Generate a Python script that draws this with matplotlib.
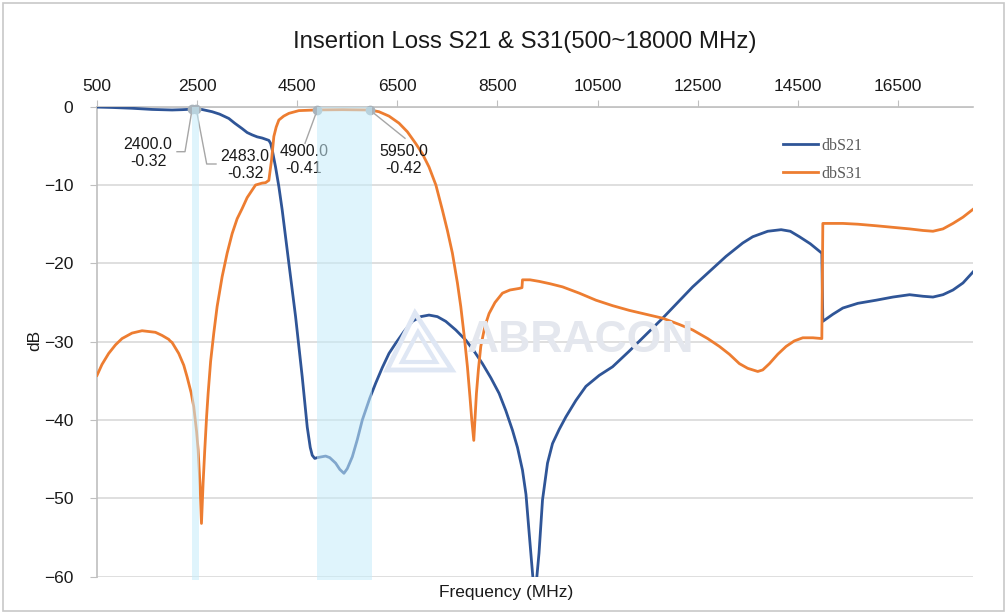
import matplotlib
matplotlib.use("Agg")
import matplotlib.pyplot as plt
from matplotlib.patches import Rectangle, Polygon

# ---------------- data ----------------
s21_freq = [500, 800, 1200, 1600, 2000, 2200, 2400, 2483, 2600, 2800, 2950, 3133, 3250, 3400,
            3500, 3600, 3700, 3800, 3933, 3970, 4000, 4033, 4067, 4133, 4200, 4333, 4467,
            4600, 4700, 4760, 4800, 4850, 4900, 5067, 5150, 5267, 5350, 5433, 5500, 5600,
            5700, 5800, 5950, 6067, 6200, 6333, 6467, 6633, 6800, 6967, 7133, 7300, 7467,
            7667, 7867, 8033, 8200, 8367, 8533, 8667, 8800, 8900, 9000, 9070, 9133, 9180,
            9213, 9280, 9330, 9400, 9500, 9600, 9733, 9867, 10067, 10267, 10533, 10800,
            11133, 11467, 11800, 12400, 13067, 13400, 13600, 13900, 14167, 14350, 14533,
            14750, 14980, 15000, 15200, 15400, 15700, 16067, 16400, 16733, 17000, 17200,
            17400, 17600, 17800, 18000]
s21_db = [-0.05, -0.1, -0.2, -0.35, -0.42, -0.38, -0.32, -0.32, -0.36, -0.64, -0.95, -1.5, -2.1, -2.8,
          -3.3, -3.6, -3.85, -4.0, -4.3, -4.7, -5.5, -6.6, -7.7, -10.2, -13.2, -20.0, -26.8,
          -34.5, -40.9, -43.5, -44.5, -44.9, -44.8, -44.6, -44.8, -45.5, -46.3, -46.8, -46.2, -44.7,
          -42.5, -40.0, -37.2, -35.3, -33.3, -31.5, -30.2, -28.7, -27.4, -26.8, -26.6, -26.8, -27.4,
          -28.5, -29.8, -31.2, -32.8, -34.6, -36.6, -38.8, -41.3, -43.5, -46.4, -49.5, -54.4, -58.0,
          -60.5, -60.5, -57.0, -50.2, -45.5, -43.0, -41.2, -39.6, -37.5, -35.7, -34.3, -33.2,
          -31.2, -29.1, -27.0, -23.0, -19.1, -17.4, -16.6, -15.9, -15.7, -15.9, -16.6,
          -17.5, -18.7, -27.4, -26.5, -25.7, -25.1, -24.7, -24.3, -24.0, -24.2, -24.3,
          -24.0, -23.4, -22.5, -21.1]

s31_freq = [500, 600, 733, 870, 1000, 1200, 1400, 1667, 1800, 1933, 1960, 2000, 2133, 2233,
            2300, 2380, 2433, 2490, 2520, 2560, 2587, 2620, 2653, 2690, 2720, 2770, 2833,
            2900, 3000, 3100, 3200, 3300, 3400, 3500, 3667, 3800, 3867, 3933, 3987, 4033,
            4080, 4133, 4230, 4333, 4533, 4900, 5400, 5950, 6133, 6333, 6533, 6700, 6867,
            7000, 7133, 7270, 7400, 7500, 7600, 7700, 7767, 7840, 7900, 7950, 7987, 8027,
            8050, 8080, 8120, 8167, 8250, 8333, 8450, 8600, 8750, 8933, 8990, 9000, 9150,
            9333, 9550, 9800, 10133, 10467, 10800, 11133, 11467, 11800, 12133, 12400, 12700,
            12933, 13133, 13333, 13500, 13700, 13800, 13933, 14100, 14267, 14430, 14600,
            14800, 14980, 15000, 15400, 15700, 16067, 16400, 16733, 17000, 17200, 17400,
            17600, 17800, 18000]
s31_db = [-34.3, -32.9, -31.5, -30.4, -29.6, -28.9, -28.6, -28.8, -29.2, -29.7, -29.9, -30.1, -31.5, -33.0,
          -34.5, -36.5, -38.3, -41.5, -43.8, -48.5, -53.2, -48.0, -43.8, -39.5, -36.6, -32.5, -28.9,
          -25.5, -21.7, -18.7, -16.2, -14.3, -13.0, -11.6, -10.0, -9.75, -9.7, -9.4, -6.8, -3.8,
          -2.6, -1.7, -1.2, -0.85, -0.5, -0.41, -0.38, -0.42, -0.64, -1.2, -2.1, -3.2, -4.7,
          -6.0, -7.7, -10.0, -13.2, -15.8, -18.7, -22.5, -25.5, -29.5, -33.2, -37.0, -40.0, -42.6,
          -40.0, -36.6, -33.5, -30.6, -28.0, -26.4, -25.0, -23.8, -23.4, -23.2, -23.1, -22.1, -22.1,
          -22.3, -22.6, -23.0, -23.8, -24.7, -25.4, -26.0, -26.5, -27.0, -27.8, -28.5, -29.6,
          -30.6, -31.6, -32.8, -33.4, -33.8, -33.6, -32.8, -31.6, -30.6, -29.9, -29.5,
          -29.5, -29.6, -14.9, -14.9, -15.0, -15.2, -15.4, -15.6, -15.8, -15.9, -15.6,
          -14.9, -14.1, -13.1]

marker_freq = [2400.0, 2483.0, 4900.0, 5950.0]
marker_db = [-0.32, -0.32, -0.41, -0.42]
band_ranges = [(2400, 2483), (4900, 5950)]

x_ticks = [500, 2500, 4500, 6500, 8500, 10500, 12500, 14500, 16500]
y_ticks = [0, -10, -20, -30, -40, -50, -60]

title = "Insertion Loss S21 & S31(500~18000 MHz)"
series_names = ["dbS21", "dbS31"]

# ---------------- styling ----------------
BLUE = "#2f5597"
ORANGE = "#ed7d31"
GRID = "#d9d9d9"
plt.rcParams["font.family"] = ["Liberation Sans", "DejaVu Sans"]

W, H = 1008, 614
fig = plt.figure(figsize=(W / 100, H / 100), dpi=100)
fig.patch.set_facecolor("white")


def fx(px):
    return px / W


def fy(py):
    return 1 - py / H


ax = fig.add_axes([fx(97), fy(576.7), fx(973) - fx(97), fy(106.7) - fy(576.7)])
ax.set_xlim(500, 18000)
ax.set_ylim(-60, 0)

# frame around the figure
fig.add_artist(Rectangle((fx(3), fy(611)), fx(1004) - fx(3), fy(3) - fy(611),
                         transform=fig.transFigure, fill=False, edgecolor="#c8c8c8", lw=1.2))

# gridlines / ticks
ax.set_yticks(y_ticks)
ax.yaxis.grid(True, color=GRID, lw=1.2)
ax.set_axisbelow(True)
ax.xaxis.tick_top()
ax.set_xticks(x_ticks)
ax.set_xticklabels([str(v) for v in x_ticks])
ax.tick_params(axis="x", direction="out", length=5, color="#bfbfbf", labelsize=12.5,
               pad=4, labelcolor="#1a1a1a")
ax.tick_params(axis="y", direction="out", length=5, color="#bfbfbf", labelsize=12.5,
               pad=12, labelcolor="#1a1a1a")
for side in ["right", "bottom"]:
    ax.spines[side].set_visible(False)
for side in ["top", "left"]:
    ax.spines[side].set_color("#bfbfbf")
    ax.spines[side].set_linewidth(1.2)

# watermark
fig.text(fx(581), fy(341), "ABRACON", fontsize=32, fontweight="bold", color="#e4e7ee",
         ha="center", va="center", zorder=0.5)
tri1 = Polygon([[fx(387), fy(370)], [fx(415), fy(313)], [fx(452), fy(370)]], closed=True,
               fill=False, edgecolor="#dfe7f4", lw=3.5, transform=fig.transFigure, zorder=0.5)
tri2 = Polygon([[fx(402), fy(362)], [fx(418), fy(332)], [fx(436), fy(362)]], closed=True,
               fill=False, edgecolor="#dfe7f4", lw=3, transform=fig.transFigure, zorder=0.5)
fig.add_artist(tri1)
fig.add_artist(tri2)

# series
l1, = ax.plot(s21_freq, s21_db, color=BLUE, lw=2.0, label=series_names[0], zorder=3)
l2, = ax.plot(s31_freq, s31_db, color=ORANGE, lw=2.0, label=series_names[1], zorder=3)

# markers
ax.plot(marker_freq, marker_db, "o", color="#a9b3bb", ms=6, zorder=4, clip_on=False)

# annotations (text centers and leader elbows in pixel coordinates)
text_pos = [(148, 153), (245, 165), (304, 160), (404, 160)]
leaders = [[(185, 151.7), (177, 151.7)],
           [(206.7, 164), (216, 164)],
           [(305, 143.3)],
           [(405, 138.3)]]
inv = ax.transData.inverted()
for f, d, (tx, ty), pts in zip(marker_freq, marker_db, text_pos, leaders):
    dx, dy = inv.transform((tx, H - ty))
    ax.text(dx, dy, f"{f:.1f}\n{d:.2f}", ha="center", va="center", fontsize=11.5,
            linespacing=1.15, color="#1a1a1a", zorder=5)
    xs = [f]
    ys = [d]
    for (px, py) in pts:
        ddx, ddy = inv.transform((px, H - py))
        xs.append(ddx)
        ys.append(ddy)
    ax.plot(xs, ys, color="#a6a6a6", lw=1.0, zorder=3.5)

# shaded bands drawn on top (extend ~2.6 px to the right like the reference)
pad_right = 52
for a, b in band_ranges:
    ax.axvspan(a, b + pad_right, ymin=-0.006, ymax=1, color="#c6ecfa", alpha=0.55, lw=0,
               zorder=6, clip_on=False)

# legend
leg = ax.legend(handles=[l1, l2], loc="upper left",
                bbox_to_anchor=((783 - 97) / 876, 1 - (138 - 106.7) / 470),
                frameon=False, prop={"family": "Liberation Serif", "size": 11.5},
                handlelength=2.2, handletextpad=0.2, labelspacing=0.72, borderaxespad=0,
                borderpad=0)
for t in leg.get_texts():
    t.set_color("#595959")

# title and axis labels
fig.text(fx(525), fy(42), title, fontsize=17.3, ha="center", va="center", color="#1a1a1a")
fig.text(fx(506), fy(592), "Frequency (MHz)", fontsize=12.5, ha="center", va="center",
         color="#1a1a1a")
fig.text(fx(35), fy(340), "dB", fontsize=12.5, ha="center", va="center", rotation=90,
         color="#1a1a1a")

fig.savefig("out.png", dpi=100)
